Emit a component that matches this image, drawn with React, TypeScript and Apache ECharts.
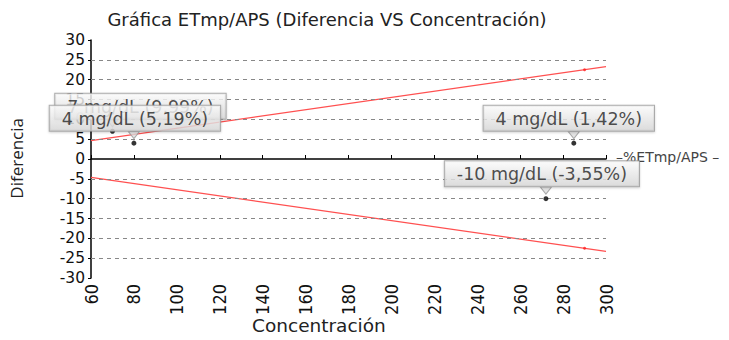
import React, { useEffect, useRef } from "react";
import * as echarts from "echarts";

const titleText = "Gráfica ETmp/APS (Diferencia VS Concentración)";
const xName = "Concentración";
const yName = "Diferencia";
const legendText = "–%ETmp/APS –";

const upperLimit: [number, number][] = [[60, 4.65], [300, 23.3]];
const lowerLimit: [number, number][] = [[60, -4.65], [300, -23.3]];
const limitDots: [number, number][] = [[290, 22.5], [290, -22.5]];

const pointX = [70, 80, 285, 272];
const pointY = [7, 4, 4, -10];
const pointLabels = ["7 mg/dL (9,99%)", "4 mg/dL (5,19%)", "4 mg/dL (1,42%)", "-10 mg/dL (-3,55%)"];
const labelShiftX = [28, 1, -5, -4];

const gridValues = [25, 20, 15, 10, 5, -5, -10, -15, -20, -25];

export default function App() {
  const ref = useRef<HTMLDivElement>(null);
  useEffect(() => {
    if (!ref.current) return;
    const chart = echarts.init(ref.current, null, { renderer: "svg" });
    const boxFill = new echarts.graphic.LinearGradient(0, 0, 0, 1, [
      { offset: 0, color: "#ffffff" },
      { offset: 1, color: "#d8d8d8" },
    ]);
    const narrowFont = "'Liberation Sans Narrow', 'DejaVu Sans Condensed', sans-serif";
    const dejaFont = "'DejaVu Sans', sans-serif";
    const textFont = "'Open Sans', 'Noto Sans', sans-serif";
    chart.setOption({
      animation: false,
      backgroundColor: "#ffffff",
      title: {
        text: titleText,
        left: 322,
        textAlign: "center",
        top: 5,
        textStyle: { fontFamily: dejaFont, fontSize: 18, fontWeight: "normal", color: "#222" },
      },
      graphic: [
        {
          type: "text",
          left: 252,
          top: 316,
          style: { text: xName, font: `18.5px ${dejaFont}`, fill: "#222" },
        },
        {
          type: "text",
          left: 8,
          top: 118,
          rotation: Math.PI / 2,
          style: { text: yName, font: `17px ${textFont}`, fill: "#222" },
        },
        {
          type: "text",
          left: 616,
          top: 150,
          style: { text: legendText, font: `14px ${dejaFont}`, fill: "#444" },
        },
      ],
      grid: { left: 91, right: 123, top: 40, bottom: 62 },
      xAxis: {
        type: "value",
        min: 60,
        max: 300,
        interval: 20,
        axisLine: { show: true, lineStyle: { color: "#000", width: 1.5 } },
        axisTick: { show: true, inside: true, length: 4, lineStyle: { color: "#000" } },
        axisLabel: { rotate: 90, fontFamily: narrowFont, fontSize: 18, color: "#111", margin: 6 },
        splitLine: { show: false },
      },
      yAxis: {
        type: "value",
        min: -30,
        max: 30,
        interval: 5,
        axisLine: { show: true, onZero: false, lineStyle: { color: "#000", width: 1.5 } },
        axisTick: { show: true, length: 3, lineStyle: { color: "#000" } },
        axisLabel: { fontFamily: dejaFont, fontSize: 15.5, color: "#111", margin: 6 },
        splitLine: { show: false },
      },
      series: [
        {
          type: "line",
          data: upperLimit,
          symbol: "none",
          lineStyle: { color: "#ff5050", width: 1.2 },
          z: 3,
          markLine: {
            silent: true,
            symbol: "none",
            label: { show: false },
            lineStyle: { color: "#888", type: [4, 4], width: 1.2 },
            data: gridValues.map((v) => ({ yAxis: v })),
          },
        },
        {
          type: "line",
          data: lowerLimit,
          symbol: "none",
          lineStyle: { color: "#ff5050", width: 1.2 },
          z: 3,
          markLine: {
            silent: true,
            symbol: "none",
            label: { show: false },
            lineStyle: { color: "#555", type: "solid", width: 1.5 },
            data: [[{ coord: [60, 0] }, { coord: [300.5, 0] }]],
          },
        },
        {
          type: "scatter",
          data: limitDots,
          symbolSize: 3,
          itemStyle: { color: "#ff2020" },
          z: 4,
        },
        {
          type: "scatter",
          data: pointX.map((x, i) => [x, pointY[i]]),
          symbol: "triangle",
          symbolRotate: 180,
          symbolSize: [11, 7],
          symbolOffset: [0, -8],
          itemStyle: { color: "#dcdcdc", borderColor: "#999", borderWidth: 1 },
          z: 5,
        },
        {
          type: "scatter",
          data: pointX.map((x, i) => ({
            value: [x, pointY[i]],
            label: { offset: [labelShiftX[i], 0] },
          })),
          symbolSize: 5,
          itemStyle: { color: "#000" },
          z: 6,
          label: {
            show: true,
            position: "top",
            distance: 10,
            formatter: (p: any) => pointLabels[p.dataIndex],
            fontFamily: dejaFont,
            fontSize: 17.5,
            color: "#222",
            backgroundColor: boxFill,
            borderColor: "#999",
            borderWidth: 1,
            padding: [4, 12, 3, 12],
            shadowColor: "rgba(0,0,0,0.2)",
            shadowBlur: 2,
            shadowOffsetY: 1,
          },
        },
      ],
    });
    return () => chart.dispose();
  }, []);
  return <div ref={ref} style={{ width: 729, height: 340, margin: -8 }} />;
}
